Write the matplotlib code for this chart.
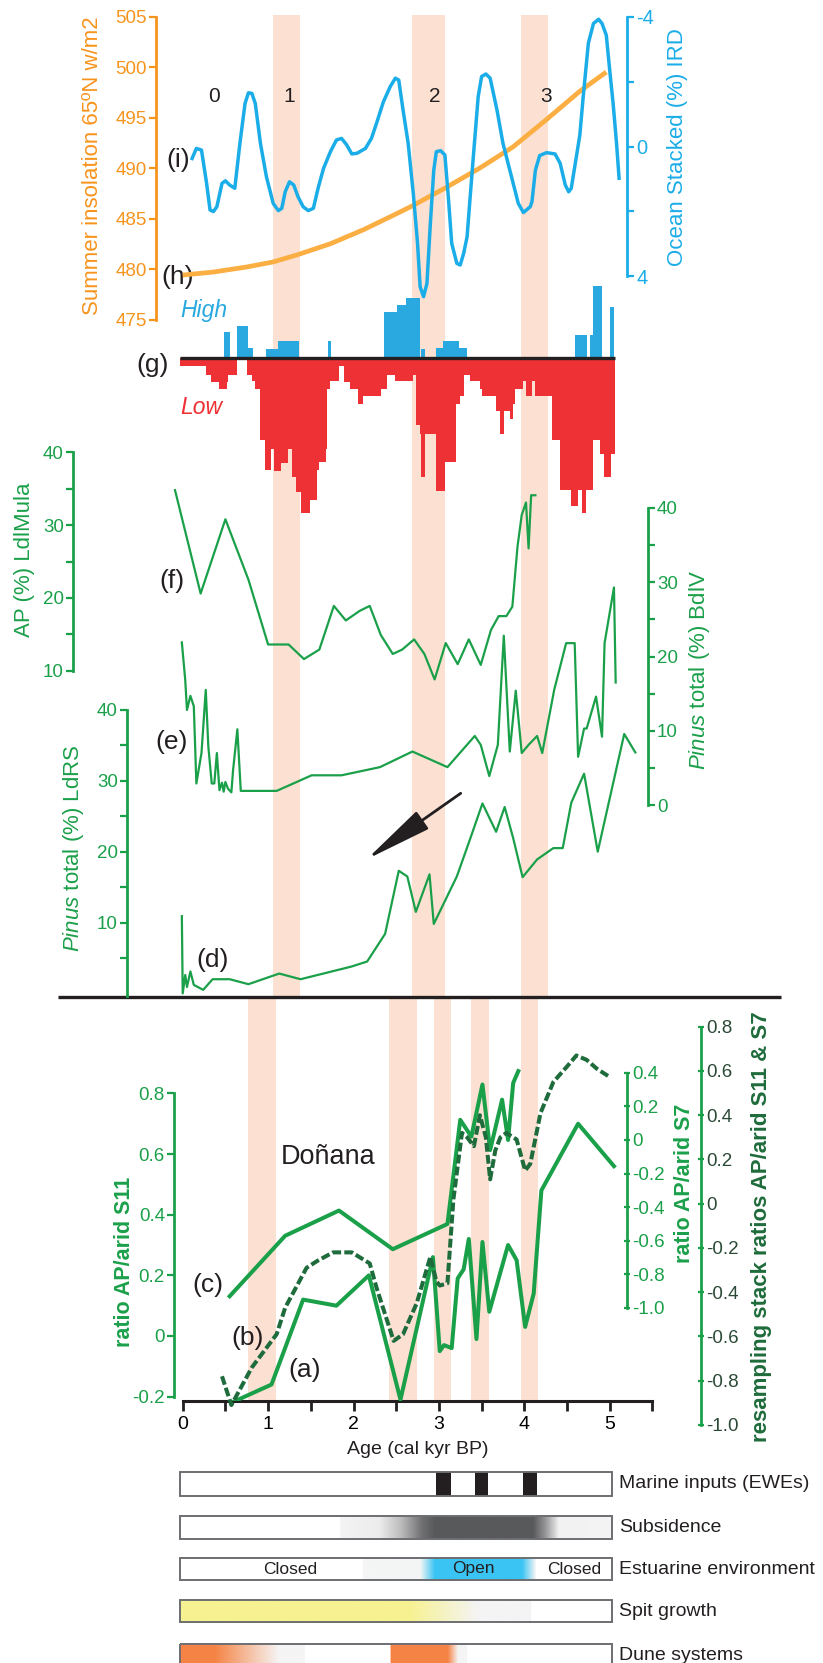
import numpy as np
import matplotlib.pyplot as plt
from matplotlib.colors import to_rgb
from matplotlib.patches import Rectangle

plt.rcParams['font.family'] = ['Liberation Sans', 'DejaVu Sans']
plt.rcParams['mathtext.fontset'] = 'custom'
plt.rcParams['mathtext.rm'] = 'Liberation Sans'
plt.rcParams['mathtext.it'] = 'Liberation Sans:italic'

# ---------------- data (ages in cal kyr BP) ----------------
# (h) summer insolation 65N, W/m2
ins_age = [0.0, 0.36, 0.75, 1.06, 1.34, 1.73, 2.12, 2.51, 2.70, 3.09, 3.48, 3.87, 4.26, 4.65, 4.96]
ins_val = [479.4, 479.7, 480.2, 480.7, 481.4, 482.5, 483.9, 485.5, 486.3, 488.1, 490.0, 492.1, 494.8, 497.6, 499.5]

# (i) ocean stacked IRD (%)
ird_age = [0.11, 0.16, 0.22, 0.28, 0.32, 0.36, 0.40, 0.46, 0.50, 0.55,
           0.61, 0.67, 0.73, 0.77, 0.81, 0.85, 0.91, 0.98, 1.06, 1.12,
           1.16, 1.20, 1.25, 1.30, 1.35, 1.41, 1.47, 1.53, 1.59, 1.65,
           1.73, 1.80, 1.86, 1.92, 1.98, 2.04, 2.14, 2.21, 2.27, 2.35,
           2.43, 2.49, 2.53, 2.58, 2.64, 2.70, 2.75, 2.78, 2.82, 2.86,
           2.90, 2.94, 2.97, 3.02, 3.07, 3.11, 3.15, 3.21, 3.25, 3.29,
           3.33, 3.36, 3.40, 3.46, 3.50, 3.55, 3.60, 3.68, 3.75, 3.81,
           3.87, 3.93, 3.99, 4.07, 4.09, 4.13, 4.18, 4.26, 4.36, 4.42,
           4.48, 4.52, 4.55, 4.61, 4.65, 4.69, 4.75, 4.81, 4.87, 4.91,
           4.96, 5.00, 5.04, 5.08, 5.11]
ird_val = [0.37, 0.06, 0.11, 1.14, 1.96, 2.01, 1.86, 1.14, 1.06, 1.19,
           1.29, -0.10, -1.33, -1.66, -1.64, -1.33, -0.10, 0.93, 1.76, 1.98,
           1.91, 1.40, 1.09, 1.19, 1.55, 1.86, 1.98, 1.91, 1.24, 0.67,
           0.16, -0.20, -0.25, -0.05, 0.23, 0.21, 0.06, -0.25, -0.72, -1.38,
           -1.85, -2.11, -2.05, -1.13, -0.10, 1.45, 2.99, 4.33, 4.64, 4.23,
           2.37, 0.73, 0.16, 0.13, 0.26, 1.55, 2.99, 3.61, 3.66, 3.30,
           2.79, 1.76, 0.42, -1.54, -2.16, -2.24, -2.11, -1.13, -0.10, 0.52,
           1.14, 1.76, 2.04, 1.86, 1.70, 0.73, 0.28, 0.19, 0.23, 0.52,
           1.19, 1.40, 1.29, 0.31, -0.35, -1.54, -3.19, -3.80, -3.93, -3.80,
           -3.44, -2.36, -1.33, -0.10, 0.98]

# (g) high / low bars
high_edges = [0.48, 0.55, 0.64, 0.76, 0.82, 0.98, 1.12, 1.36, 1.70, 1.74, 2.36, 2.51, 2.62, 2.78,
              2.79, 2.84, 2.97, 3.05, 3.24, 3.33, 4.59, 4.74, 4.77, 4.80, 4.91, 5.00, 5.05]
high_vals = [2.6, 0, 3.2, 1.0, 0, 0.9, 1.7, 0, 1.7, 0, 4.6, 5.3, 6.0, 0, 0.9, 0, 1.0, 1.7, 1.0, 0,
             2.3, 0, 2.3, 7.2, 0, 5.1]
low_edges = [-0.03, 0.27, 0.33, 0.42, 0.52, 0.53, 0.63, 0.75, 0.81, 0.85,
             0.90, 0.96, 1.03, 1.07, 1.15, 1.23, 1.28, 1.33, 1.39, 1.49,
             1.57, 1.60, 1.68, 1.69, 1.73, 1.83, 1.89, 1.96, 2.05, 2.11,
             2.32, 2.39, 2.49, 2.70, 2.73, 2.78, 2.79, 2.84, 2.97, 3.07,
             3.20, 3.25, 3.29, 3.37, 3.48, 3.51, 3.67, 3.72, 3.76, 3.83,
             3.87, 3.89, 3.98, 4.02, 4.09, 4.13, 4.32, 4.42, 4.55, 4.63,
             4.68, 4.72, 4.80, 4.89, 4.93, 5.02, 5.06]
low_vals = [0.8, 1.7, 2.4, 3.1, 2.4, 1.7, 0, 1.7, 2.3, 3.1,
            8.2, 11.2, 9.1, 11.3, 10.5, 9.1, 11.9, 13.4, 15.5, 14.2,
            11.2, 10.4, 9.1, 3.1, 2.3, 0.8, 2.4, 3.1, 4.6, 3.8,
            3.1, 1.7, 2.3, 1.7, 6.7, 7.6, 11.9, 7.6, 13.3, 10.4,
            4.6, 3.8, 1.7, 2.3, 3.1, 3.8, 5.3, 7.6, 5.3, 6.1,
            4.6, 3.1, 2.3, 3.8, 2.3, 3.8, 8.2, 13.2, 14.8, 13.2,
            15.5, 13.2, 8.2, 9.6, 11.9, 9.6]

# (f) AP (%) LdlMula
f_age = [-0.09, 0.21, 0.50, 0.77, 1.00, 1.24, 1.42, 1.60, 1.77, 1.91,
         2.07, 2.19, 2.32, 2.46, 2.57, 2.71, 2.83, 2.95, 3.08, 3.22,
         3.35, 3.49, 3.61, 3.70, 3.79, 3.86, 3.92, 3.97, 4.02, 4.05, 4.08, 4.13]
f_val = [34.8, 20.6, 30.8, 22.5, 13.6, 13.6, 11.6, 12.9, 18.9, 16.9,
         18.2, 18.9, 14.9, 12.3, 12.9, 14.3, 12.3, 8.8, 13.8, 10.9,
         14.3, 10.8, 15.6, 17.5, 17.5, 18.8, 27.0, 31.4, 33.1, 26.8, 34.1, 34.1]

# (e) Pinus total (%) BdlV
e_age = [-0.01, 0.03, 0.05, 0.09, 0.13, 0.16, 0.22, 0.27, 0.30, 0.34,
         0.37, 0.40, 0.43, 0.46, 0.48, 0.50, 0.53, 0.57, 0.59, 0.64,
         0.68, 1.10, 1.51, 1.86, 2.31, 2.69, 3.10, 3.42, 3.49, 3.59,
         3.69, 3.76, 3.83, 3.90, 3.97, 4.05, 4.15, 4.21, 4.35, 4.49,
         4.59, 4.63, 4.70, 4.73, 4.84, 4.91, 4.94, 5.05, 5.07]
e_val = [21.9, 16.8, 12.8, 14.7, 13.3, 2.9, 7.0, 15.5, 7.9, 2.9,
         2.9, 7.0, 2.0, 3.0, 1.8, 3.1, 2.2, 1.7, 4.7, 10.2,
         1.9, 1.9, 4.0, 4.0, 5.1, 7.2, 5.1, 9.3, 8.1, 3.9,
         8.1, 22.8, 7.2, 15.4, 7.0, 8.1, 9.3, 7.0, 15.5, 21.8,
         21.8, 6.5, 10.3, 10.3, 14.6, 9.2, 21.8, 29.3, 16.5]

# (d) Pinus total (%) LdRS
d_age = [-0.01, 0.00, 0.03, 0.05, 0.09, 0.13, 0.24, 0.35, 0.55, 0.77,
         1.13, 1.38, 1.98, 2.16, 2.37, 2.53, 2.63, 2.73, 2.89, 2.94,
         3.21, 3.36, 3.51, 3.67, 3.77, 3.87, 3.98, 4.15, 4.34, 4.45,
         4.55, 4.70, 4.86, 4.97, 5.17, 5.30]
d_val = [10.9, 0.0, 2.6, 0.9, 3.1, 1.2, 0.5, 2.0, 2.0, 1.3,
         2.8, 2.0, 3.8, 4.5, 8.4, 17.3, 16.5, 11.5, 16.8, 9.8,
         16.5, 21.6, 26.8, 22.8, 26.3, 21.9, 16.4, 18.9, 20.5, 20.5,
         26.9, 31.0, 20.0, 25.9, 36.6, 34.0]

# (a) ratio AP/arid S11
a_age = [0.57, 1.04, 1.41, 1.80, 2.18, 2.55, 2.93, 3.01, 3.06, 3.15, 3.22, 3.29,
         3.35, 3.44, 3.51, 3.59, 3.81, 3.91, 4.01, 4.11, 4.20, 4.63, 5.05]
a_val = [-0.22, -0.16, 0.12, 0.10, 0.20, -0.21, 0.26, -0.05, -0.03, -0.04, 0.19, 0.22,
         0.32, -0.01, 0.31, 0.08, 0.30, 0.25, 0.03, 0.14, 0.48, 0.70, 0.56]

# (b) resampling stack ratios AP/arid S11 & S7
b_age = [0.46, 0.57, 0.81, 1.10, 1.20, 1.45, 1.57, 1.76, 1.98, 2.19,
         2.27, 2.47, 2.58, 2.74, 2.90, 2.97, 3.01, 3.10, 3.17, 3.27,
         3.33, 3.41, 3.48, 3.55, 3.60, 3.66, 3.72, 3.79, 3.91, 4.01,
         4.07, 4.19, 4.34, 4.50, 4.61, 4.73, 4.85, 5.01]
b_val = [-0.78, -0.91, -0.74, -0.59, -0.47, -0.29, -0.26, -0.22, -0.22, -0.27,
         -0.38, -0.62, -0.59, -0.45, -0.24, -0.35, -0.37, -0.36, 0.02, 0.32,
         0.30, 0.26, 0.40, 0.30, 0.11, 0.24, 0.30, 0.32, 0.29, 0.15,
         0.18, 0.41, 0.55, 0.62, 0.67, 0.65, 0.61, 0.57]

# (c) ratio AP/arid S7
c_age = [0.55, 1.20, 1.83, 2.46, 3.10, 3.25, 3.38, 3.51, 3.60, 3.74, 3.81, 3.87, 3.93]
c_val = [-0.93, -0.57, -0.42, -0.65, -0.50, 0.12, 0.02, 0.33, -0.06, 0.24, 0.00, 0.34, 0.41]

# cold events (shaded)
top_bands = [(1.06, 1.37), (2.69, 3.07), (3.96, 4.28)]
low_bands = [(0.77, 1.09), (2.42, 2.74), (2.94, 3.14), (3.38, 3.59), (3.96, 4.16)]
bond_ids = ['0', '1', '2', '3']
bond_age = [0.37, 1.25, 2.95, 4.25]

# environmental stripes
ewe_start = [2.97, 3.42, 3.99]
ewe_end = [3.14, 3.58, 4.15]
sub_age = [-0.03, 1.84, 1.84, 2.30, 2.55, 2.80, 2.95, 4.10, 4.25, 4.40, 5.03]
sub_col = ['#FFFFFF', '#FFFFFF', '#F4F4F4', '#ECECEC', '#BDBDBE', '#707072', '#58595B',
           '#58595B', '#9A9A9C', '#F2F2F2', '#F4F4F4']
est_age = [-0.03, 2.11, 2.11, 2.78, 2.95, 3.97, 4.13, 4.13, 5.03]
est_col = ['#FFFFFF', '#FFFFFF', '#F5F5F5', '#F3F5F6', '#3AC4F3', '#3AC4F3', '#F5F5F5',
           '#FFFFFF', '#FFFFFF']
spit_age = [-0.03, 2.65, 3.45, 4.08, 4.08, 5.03]
spit_col = ['#F7F291', '#F7F291', '#F4F4F4', '#F4F4F4', '#FFFFFF', '#FFFFFF']
dune_age = [-0.03, 0.37, 1.13, 1.43, 1.43, 2.43, 2.43, 3.10, 3.22, 3.33, 3.33, 5.03]
dune_col = ['#F58345', '#F58345', '#F5F5F5', '#F5F5F5', '#FFFFFF', '#FFFFFF', '#F58345',
            '#F58345', '#F5F5F5', '#F5F5F5', '#FFFFFF', '#FFFFFF']

# ---------------- layout ----------------
W, H = 823, 1663
X0, PXK = 182.7, 85.4          # pixel of age 0 and pixels per kyr
ORANGE, INS = '#F7941D', '#FBAE42'
BLUE = '#1AADE8'
GREEN, DARK = '#1BA04A', '#1E6B3B'
BAND = '#FCE1D3'
INK = '#231F20'


def age_at(px):
    return (px - X0) / PXK


fig = plt.figure(figsize=(W / 100, H / 100), dpi=100)

cv = fig.add_axes([0, 0, 1, 1])
cv.axis('off')


def panel(left, top, right, bottom):
    ax = fig.add_axes([left / W, 1 - bottom / H, (right - left) / W, (bottom - top) / H])
    ax.set_xlim(age_at(left), age_at(right))
    ax.patch.set_visible(False)
    for sp in ax.spines.values():
        sp.set_visible(False)
    ax.set_xticks([])
    ax.set_yticks([])
    return ax


def yscale(ax, top, bottom, v1, y1, v2, y2):
    val = lambda y: v1 + (y - y1) * (v2 - v1) / (y2 - y1)
    ax.set_ylim(val(bottom), val(top))


def yaxis(ax, side, color, lo, hi, major, labels, minor=(), labelcolor=None,
          direction='out', size=13.5):
    sp = ax.spines[side]
    sp.set_visible(True)
    sp.set_color(color)
    sp.set_linewidth(2)
    sp.set_bounds(lo, hi)
    ax.yaxis.set_ticks_position(side)
    ax.set_yticks(major, labels)
    ax.set_yticks(minor, minor=True)
    ax.tick_params(axis='y', which='both', color=color, width=1.6, length=5,
                   direction=direction, labelsize=size,
                   labelcolor=labelcolor or color, pad=1.5)


def text(px, py, s, **kw):
    kw.setdefault('ha', 'center')
    kw.setdefault('va', 'center')
    cv.text(age_at(px), py, s, **kw)


# shaded cold events
for a0, a1 in top_bands:
    cv.add_patch(Rectangle((a0, 15), a1 - a0, 981, color=BAND, lw=0, zorder=0))
for a0, a1 in low_bands:
    cv.add_patch(Rectangle((a0, 998), a1 - a0, 403, color=BAND, lw=0, zorder=0))

# (h) insolation and (i) IRD
ax_ins = panel(156, 10, 627, 330)
yscale(ax_ins, 10, 330, 505, 16.5, 475, 319.5)
ax_ins.plot(ins_age, ins_val, color=INS, lw=3.4, solid_capstyle='butt')
yaxis(ax_ins, 'left', ORANGE, 475, 505, range(475, 506, 5), [str(v) for v in range(475, 506, 5)])

ax_ird = panel(156, 10, 627, 330)
yscale(ax_ird, 10, 330, -4, 17, 4, 276)
ax_ird.plot(ird_age, ird_val, color=BLUE, lw=2.5)
yaxis(ax_ird, 'right', BLUE, -4, 4, [-4, 0, 4], ['-4', '0', '4'], minor=[-2, 2], size=14.5)

# (g) high / low bars
ax_g = panel(156, 280, 627, 520)
yscale(ax_g, 280, 520, 0, 358.3, 1, 348.3)
ax_g.stairs(high_vals, high_edges, fill=True, color='#29A9E0', baseline=0)
ax_g.stairs(-np.array(low_vals), low_edges, fill=True, color='#EE3135', baseline=0)
ax_g.plot([low_edges[0], low_edges[-1]], [0, 0], color=INK, lw=2.4, solid_capstyle='butt')

# (f) and (e)
ax_f = panel(73, 440, 648, 820)
yscale(ax_f, 440, 820, 40, 452.3, 10, 670.7)
ax_f.plot(f_age, f_val, color=GREEN, lw=1.6)
yaxis(ax_f, 'left', GREEN, 10, 40, [10, 20, 30, 40], ['10', '20', '30', '40'], minor=[15, 25, 35])

ax_e = panel(73, 440, 648, 820)
yscale(ax_e, 440, 820, 40, 508, 0, 805)
ax_e.plot(e_age, e_val, color=GREEN, lw=1.6)
yaxis(ax_e, 'right', GREEN, 0, 40, [0, 10, 20, 30, 40], ['0', '10', '20', '30', '40'],
      minor=[5, 15, 25, 35])

# (d)
ax_d = panel(127, 690, 648, 1000)
yscale(ax_d, 690, 1000, 0, 993.4, 40, 709.9)
ax_d.plot(d_age, d_val, color=GREEN, lw=1.6)
yaxis(ax_d, 'left', GREEN, -0.3, 40, [10, 20, 30, 40], ['10', '20', '30', '40'],
      minor=[5, 15, 25, 35])

# Doñana ratios
ax_a = panel(174, 1000, 660, 1401)
yscale(ax_a, 1000, 1401, 0, 1336, 0.8, 1093.4)
ax_a.plot(a_age, a_val, color=GREEN, lw=2.9, zorder=3)
s11 = [0.8, 0.6, 0.4, 0.2, 0, -0.2]
yaxis(ax_a, 'left', GREEN, -0.2, 0.8, s11, ['0.8', '0.6', '0.4', '0.2', '0', '-0.2'])
ax_a.spines['bottom'].set_visible(True)
ax_a.spines['bottom'].set_color(INK)
ax_a.spines['bottom'].set_linewidth(2.2)
ax_a.spines['bottom'].set_bounds(0, 5.5)
ax_a.xaxis.set_ticks_position('bottom')
ax_a.set_xticks(range(6), [str(i) for i in range(6)])
ax_a.set_xticks(np.arange(0.5, 5.6, 1), minor=True)
ax_a.tick_params(axis='x', which='both', color=INK, length=7.5, width=2, direction='out',
                 labelsize=14, pad=3)

ax_c = panel(174, 1000, 627, 1401)
yscale(ax_c, 1000, 1401, 0, 1140, 0.4, 1072.8)
ax_c.plot(c_age, c_val, color=GREEN, lw=2.9, zorder=3)
s7 = [0.4, 0.2, 0, -0.2, -0.4, -0.6, -0.8, -1.0]
yaxis(ax_c, 'right', GREEN, -1.0, 0.4, s7,
      ['0.4', '0.2', '0', '-0.2', '-0.4', '-0.6', '-0.8', '-1.0'], direction='inout')

ax_b = panel(174, 1000, 701, 1440)
yscale(ax_b, 1000, 1440, 0, 1203.7, 0.8, 1026.7)
ax_b.plot(b_age, b_val, color=DARK, lw=2.9, ls=(0, (2.2, 0.8)), zorder=2)
rs = [0.8, 0.6, 0.4, 0.2, 0, -0.2, -0.4, -0.6, -0.8, -1.0]
yaxis(ax_b, 'right', GREEN, -1.0, 0.8, rs,
      ['0.8', '0.6', '0.4', '0.2', '0', '-0.2', '-0.4', '-0.6', '-0.8', '-1.0'],
      labelcolor='#2B4A36', direction='inout')

# separator and arrow
cv.plot([age_at(58), age_at(781)], [997, 997], color=INK, lw=2.4, solid_capstyle='butt', zorder=4)
cv.annotate('', xy=(age_at(366.7), 859.3), xytext=(age_at(460.7), 793.3),
            arrowprops=dict(arrowstyle='-|>,head_length=1.9,head_width=0.3',
                            color=INK, lw=2, mutation_scale=22, shrinkA=0, shrinkB=0),
            zorder=4)

# panel letters and annotations
for s, px, py in [('(i)', 178, 160), ('(h)', 178, 277), ('(g)', 153, 365), ('(f)', 172, 581),
                  ('(e)', 172, 742), ('(d)', 213, 960), ('(c)', 208, 1285),
                  ('(b)', 248, 1338), ('(a)', 305, 1370)]:
    text(px, py, s, fontsize=19, color=INK)
for s, a in zip(bond_ids, bond_age):
    cv.text(a, 97, s, fontsize=15, color=INK, ha='center', va='center')
text(204, 310, 'High', fontsize=16.5, style='italic', color='#29A9E0')
text(201, 407, 'Low', fontsize=16.5, style='italic', color='#EE3135')
text(328, 1157, 'Doñana', fontsize=19.5, color=INK)
text(417.5, 1449, 'Age (cal kyr BP)', fontsize=14, color=INK)

# axis titles
text(93, 166, 'Summer insolation 65ºN w/m2', rotation=90, fontsize=16, color=ORANGE)
text(678, 147, 'Ocean Stacked (%) IRD', rotation=90, fontsize=16, color=BLUE)
text(25, 560, 'AP (%) LdlMula', rotation=90, fontsize=16, color=GREEN)
text(700, 670, r'$\mathit{Pinus}$ total (%) BdlV', rotation=90, fontsize=16, color=GREEN)
text(73, 848, r'$\mathit{Pinus}$ total (%) LdRS', rotation=90, fontsize=16, color=GREEN)
text(125, 1262, 'ratio AP/arid S11', rotation=90, fontsize=15.5, fontweight='bold', color=GREEN)
text(685, 1183, 'ratio AP/arid S7', rotation=90, fontsize=15.5, fontweight='bold', color=GREEN)
text(762, 1227, 'resampling stack ratios AP/arid S11 & S7', rotation=90, fontsize=16,
     fontweight='bold', color=DARK)

# environmental stripes
row_x0, row_x1 = -0.03, 5.03


def strip(top, bottom, stops_age, stops_col):
    xs = np.linspace(row_x0, row_x1, 800)
    cols = np.array([to_rgb(c) for c in stops_col])
    img = np.stack([np.interp(xs, stops_age, cols[:, k]) for k in range(3)], axis=-1)[None]
    cv.imshow(img, extent=(row_x0, row_x1, bottom, top), aspect='auto',
              interpolation='bilinear', zorder=1)
    cv.add_patch(Rectangle((row_x0, top), row_x1 - row_x0, bottom - top, fill=False,
                           ec='#6D6E71', lw=1.4, zorder=3))


strip(1472, 1496, [row_x0, row_x1], ['#FFFFFF', '#FFFFFF'])
for a0, a1 in zip(ewe_start, ewe_end):
    cv.add_patch(Rectangle((a0, 1472), a1 - a0, 24, color=INK, lw=0, zorder=2))
strip(1516, 1539, sub_age, sub_col)
strip(1558, 1580, est_age, est_col)
strip(1600, 1622, spit_age, spit_col)
strip(1644, 1668, dune_age, dune_col)

for s, py in [('Marine inputs (EWEs)', 1484), ('Subsidence', 1527.5),
              ('Estuarine environment', 1569), ('Spit growth', 1611), ('Dune systems', 1655)]:
    text(619, py, s, fontsize=14, color=INK, ha='left')
for s, a in [('Closed', 1.26), ('Open', 3.40), ('Closed', 4.58)]:
    cv.text(a, 1569, s, fontsize=12.5, color=INK, ha='center', va='center', zorder=4)

cv.set_xlim(age_at(0), age_at(W))
cv.set_ylim(H, 0)

fig.savefig('out.png', dpi=100)
